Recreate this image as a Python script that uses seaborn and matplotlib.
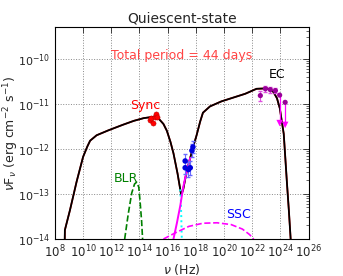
import numpy as np
import pandas as pd
import matplotlib
matplotlib.use("Agg")
import matplotlib.pyplot as plt
import matplotlib.ticker as mticker
import seaborn as sns

# -------------------------------
# Data (log10 nu, log10 nuFnu)
# -------------------------------
total_lognu = [8.70, 8.71, 9.07, 9.54, 10.0, 10.3, 10.5, 10.96, 11.8, 12.8, 13.6, 14.3,
               15.0, 15.3, 15.7, 15.94, 16.2, 16.41, 16.7, 16.88, 16.96, 17.1, 17.36,
               17.6, 17.83, 18.05, 18.3, 18.5, 19.0, 19.8, 20.7, 21.5, 22.3, 23.05,
               23.5, 23.75, 23.95, 24.23, 24.46, 24.6, 24.72]
total_logf = [-14.0, -13.8, -13.36, -12.73, -12.18, -11.95, -11.82, -11.70, -11.59,
              -11.47, -11.38, -11.32, -11.29, -11.31, -11.45, -11.60, -11.85, -12.10,
              -12.55, -12.88, -13.03, -12.90, -12.48, -12.20, -11.93, -11.70, -11.40,
              -11.20, -11.06, -10.95, -10.86, -10.78, -10.67, -10.66, -10.74, -10.88,
              -11.10, -11.67, -12.77, -13.40, -14.0]

# EC component (magenta, steep rise)
ec_lognu = [16.41, 16.65, 16.9, 17.1, 17.36, 17.6]
ec_logf = [-14.0, -13.65, -13.25, -12.85, -12.48, -12.20]

# synchrotron tail (cyan dotted)
sync_tail_lognu = [16.88, 16.93, 16.97, 17.0]
sync_tail_logf = [-12.9, -13.1, -13.6, -14.0]

# SSC (magenta dashed)
ssc_lognu = [15.7, 16.5, 17.5, 18.5, 19.5, 20.5, 21.3, 21.8, 22.1]
ssc_logf = [-14.0, -13.87, -13.72, -13.65, -13.64, -13.68, -13.78, -13.9, -14.0]

# BLR (green dashed)
blr_lognu = [12.95, 13.2, 13.45, 13.65, 13.8, 13.95, 14.05, 14.15, 14.22]
blr_logf = [-14.0, -13.45, -12.98, -12.78, -12.74, -12.85, -13.2, -13.6, -14.0]

# optical/UV points (red)
opt_lognu = [14.72, 14.80, 14.95, 15.10, 15.20, 15.23]
opt_logf = [-11.36, -11.32, -11.43, -11.30, -11.23, -11.30]

# X-ray points (blue)
xray_lognu = [17.24, 17.24, 17.47, 17.60, 17.72, 17.79]
xray_logf = [-12.27, -12.42, -12.46, -12.42, -12.04, -11.96]
xray_err = [0.15, 0.14, 0.16, 0.16, 0.14, 0.14]

# gamma-ray points (purple)
gam_lognu = [22.57, 22.93, 23.28, 23.64]
gam_logf = [-10.82, -10.67, -10.69, -10.71]
gam_err = [0.11, 0.07, 0.07, 0.06]

# gamma-ray upper limits
ul_lognu = [23.94, 24.33]
ul_top = [-10.81, -10.97]
ul_bot = [-11.43, -11.47]

# -------------------------------
# Plot
# -------------------------------
sns.set_style("white")
plt.rcParams['font.family'] = ['DejaVu Sans']
plt.rcParams['mathtext.fontset'] = 'dejavusans'
plt.rcParams['axes.unicode_minus'] = False

fig = plt.figure(figsize=(3.43, 2.76), dpi=100)
ax = fig.add_axes([0.160, 0.134, 0.740, 0.768])


def lin(a):
    return np.power(10.0, np.array(a, dtype=float))


df_tot = pd.DataFrame({'nu': lin(total_lognu), 'f': lin(total_logf)})
sns.lineplot(data=df_tot, x='nu', y='f', sort=False, estimator=None, color='red', lw=1.2, ax=ax)
sns.lineplot(data=df_tot, x='nu', y='f', sort=False, estimator=None, color='black', lw=1.3, ax=ax)

ax.plot(lin(sync_tail_lognu), lin(sync_tail_logf), color='cyan', ls=':', lw=1.4)
ax.plot(lin(ec_lognu), lin(ec_logf), color='magenta', lw=1.4)
ax.plot(lin(ssc_lognu), lin(ssc_logf), color='magenta', ls='--', lw=1.2)
ax.plot(lin(blr_lognu), lin(blr_logf), color='green', ls='--', lw=1.2)

# data points
ax.errorbar(lin(xray_lognu), lin(xray_logf),
            yerr=[lin(xray_logf) - lin(np.array(xray_logf) - xray_err),
                  lin(np.array(xray_logf) + xray_err) - lin(xray_logf)],
            fmt='none', ecolor='#6a6aff', elinewidth=0.8, capsize=1.5)
sns.scatterplot(x=lin(xray_lognu), y=lin(xray_logf), color='#0000dd', s=16,
                edgecolor='none', ax=ax, zorder=5)

sns.scatterplot(x=lin(opt_lognu), y=lin(opt_logf), color='red', s=14,
                edgecolor='#aa0000', linewidth=0.3, ax=ax, zorder=5)

ax.errorbar(lin(gam_lognu), lin(gam_logf),
            yerr=[lin(gam_logf) - lin(np.array(gam_logf) - gam_err),
                  lin(np.array(gam_logf) + gam_err) - lin(gam_logf)],
            fmt='none', ecolor='#e050e0', elinewidth=0.8, capsize=1.5)
for x, t, b in zip(ul_lognu, ul_top, ul_bot):
    ax.plot([10 ** x, 10 ** x], [10 ** t, 10 ** b], color='magenta', lw=0.9)
sns.scatterplot(x=lin(ul_lognu), y=lin(ul_bot), marker='v', color='magenta', s=22,
                edgecolor='none', ax=ax, zorder=5)
sns.scatterplot(x=lin(gam_lognu + ul_lognu), y=lin(gam_logf + ul_top), color='#990099', s=14,
                edgecolor='none', ax=ax, zorder=6)

# axes
ax.set_xscale('log')
ax.set_yscale('log')
ax.set_xlim(1e8, 1e26)
ax.set_ylim(1e-14, 5e-10)
ax.xaxis.set_major_locator(mticker.FixedLocator([10.0 ** k for k in range(8, 27, 2)]))
ax.xaxis.set_minor_locator(mticker.NullLocator())
ax.yaxis.set_major_locator(mticker.FixedLocator([10.0 ** k for k in range(-14, -9)]))
ax.yaxis.set_minor_locator(mticker.LogLocator(base=10, subs=np.arange(2, 10), numticks=20))
ax.yaxis.set_minor_formatter(mticker.NullFormatter())
ax.tick_params(which='both', direction='in', top=True, right=True, labelsize=8.5)
ax.tick_params(axis='y', labelsize=8)
ax.tick_params(which='major', length=4, width=0.6)
ax.tick_params(which='minor', length=2, width=0.5)
ax.grid(True, which='major', ls=':', color='#888888', lw=0.7)
for s in ax.spines.values():
    s.set_linewidth(0.8)
    s.set_color('black')

ax.set_xlabel(r'$\nu$ (Hz)', fontsize=9, labelpad=1)
ax.set_ylabel(r'$\nu$F$_\nu$ (erg cm$^{-2}$ s$^{-1}$)', fontsize=9)
ax.yaxis.set_label_coords(-0.135, 0.5)
ax.set_title('Quiescent-state', fontsize=10, pad=3)

ax.text(1e17, 1.2e-10, 'Total period = 44 days', color='#ff4444', fontsize=9, ha='center', va='center')
ax.text(2.5e14, 9e-12, 'Sync', color='red', fontsize=9, ha='center', va='center')
ax.text(6e23, 4.5e-11, 'EC', color='black', fontsize=9, ha='center', va='center')
ax.text(1.1e13, 2.2e-13, 'BLR', color='green', fontsize=9, ha='center', va='center')
ax.text(1.0e21, 3.5e-14, 'SSC', color='blue', fontsize=9, ha='center', va='center')

fig.savefig('out.png', dpi=100)
